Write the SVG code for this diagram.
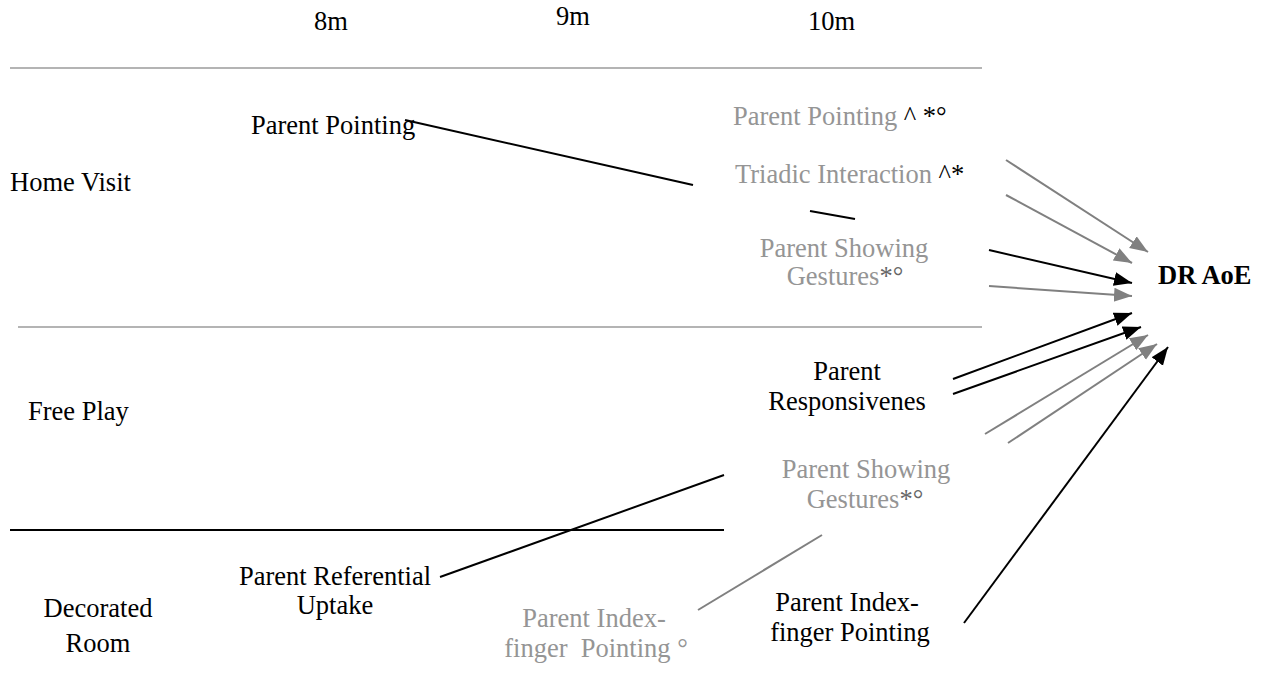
<svg xmlns="http://www.w3.org/2000/svg" width="1270" height="681" viewBox="0 0 1270 681">
  <style>
    text { font-family: "Liberation Serif", "Times New Roman", serif; font-size: 26.5px; fill: #000; }
    .g { fill: #959595; }
    .k { fill: #000; }
    .m { fill: #666; }
    .c { text-anchor: middle; }
    .b { font-weight: bold; }
    .rule { stroke: #b4b4b4; stroke-width: 2; fill: none; }
    .ruleb { stroke: #000; stroke-width: 2; fill: none; }
    .lk { stroke: #000; stroke-width: 2; fill: none; }
    .lg { stroke: #808080; stroke-width: 2; fill: none; }
  </style>
  <defs>
    <marker id="ak" markerUnits="userSpaceOnUse" markerWidth="20" markerHeight="16" refX="18" refY="7" orient="auto">
      <path d="M0,0 L18,7 L0,14 z" fill="#000"/>
    </marker>
    <marker id="ag" markerUnits="userSpaceOnUse" markerWidth="20" markerHeight="16" refX="18" refY="7" orient="auto">
      <path d="M0,0 L18,7 L0,14 z" fill="#808080"/>
    </marker>
  </defs>
  <rect width="1270" height="681" fill="#fff"/>

  <g id="axis">
    <text x="314" y="30">8m</text>
    <text x="556" y="25">9m</text>
    <text x="808" y="30">10m</text>
  </g>

  <g id="rules">
    <line class="rule" x1="10" y1="68" x2="982" y2="68"/>
    <line class="rule" x1="18" y1="327" x2="982" y2="327"/>
    <line class="ruleb" x1="10" y1="530" x2="724" y2="530"/>
  </g>

  <g id="row-labels">
    <text id="home-visit" x="10" y="191">Home Visit</text>
    <text id="free-play" x="28" y="420">Free Play</text>
    <g id="decorated-room">
      <text class="c" x="98" y="617">Decorated</text>
      <text class="c" x="98" y="652">Room</text>
    </g>
  </g>

  <g id="connectors">
    <line class="lk" x1="405" y1="120" x2="693" y2="185"/>
    <line class="lk" x1="810" y1="211" x2="855" y2="219"/>
    <line class="lk" x1="440" y1="577" x2="724" y2="475"/>
    <line class="lg" x1="698" y1="610" x2="822" y2="535"/>
    <line class="lg" x1="1006" y1="160" x2="1148" y2="252" marker-end="url(#ag)"/>
    <line class="lg" x1="1006" y1="195" x2="1132" y2="263" marker-end="url(#ag)"/>
    <line class="lk" x1="989" y1="250" x2="1132" y2="283" marker-end="url(#ak)"/>
    <line class="lg" x1="989" y1="286" x2="1132" y2="296" marker-end="url(#ag)"/>
    <line class="lk" x1="953" y1="379" x2="1132" y2="313" marker-end="url(#ak)"/>
    <line class="lk" x1="953" y1="394" x2="1141" y2="327" marker-end="url(#ak)"/>
    <line class="lg" x1="985" y1="434" x2="1148" y2="335" marker-end="url(#ag)"/>
    <line class="lg" x1="1008" y1="443" x2="1157" y2="344" marker-end="url(#ag)"/>
    <line class="lk" x1="964" y1="623" x2="1168" y2="347" marker-end="url(#ak)"/>
  </g>

  <g id="n-parent-pointing-8m">
    <text x="251" y="134">Parent Pointing</text>
  </g>
  <g id="n-parent-pointing-10m">
    <text x="733" y="125"><tspan class="g">Parent Pointing</tspan><tspan class="k"> ^ *°</tspan></text>
  </g>
  <g id="n-triadic-interaction">
    <text x="735" y="183"><tspan class="g">Triadic Interaction</tspan><tspan class="k"> ^*</tspan></text>
  </g>
  <g id="n-showing-gestures-hv">
    <text class="c g" x="844" y="257">Parent Showing</text>
    <text class="c" x="845" y="285"><tspan class="g">Gestures</tspan><tspan class="m">*°</tspan></text>
  </g>
  <g id="n-dr-aoe">
    <text class="b" x="1158" y="284">DR AoE</text>
  </g>
  <g id="n-responsiveness">
    <text class="c" x="847" y="380">Parent</text>
    <text class="c" x="847" y="410">Responsivenes</text>
  </g>
  <g id="n-showing-gestures-fp">
    <text class="c g" x="866" y="478">Parent Showing</text>
    <text class="c" x="865" y="508"><tspan class="g">Gestures</tspan><tspan class="m">*°</tspan></text>
  </g>
  <g id="n-referential-uptake">
    <text class="c" x="335" y="585">Parent Referential</text>
    <text class="c" x="335" y="614">Uptake</text>
  </g>
  <g id="n-index-finger-9m">
    <text class="c g" x="594" y="627">Parent Index-</text>
    <text class="c g" x="596" y="657" xml:space="preserve">finger  Pointing °</text>
  </g>
  <g id="n-index-finger-10m">
    <text class="c" x="847" y="611">Parent Index-</text>
    <text class="c" x="850" y="641">finger Pointing</text>
  </g>
</svg>
